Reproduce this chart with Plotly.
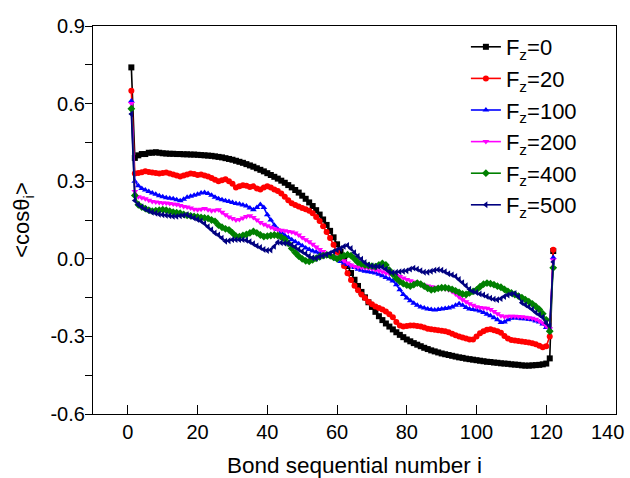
import plotly.graph_objects as go

bond_index = list(range(1, 123))

fz0 = [0.74, 0.39,
       0.400, 0.405, 0.405, 0.410, 0.410, 0.412, 0.410, 0.408,
       0.407, 0.406, 0.406, 0.405, 0.405, 0.404, 0.404, 0.403, 0.403, 0.402,
       0.401, 0.400, 0.399, 0.398, 0.396, 0.394, 0.392, 0.389, 0.386, 0.383,
       0.379, 0.375, 0.371, 0.366, 0.361, 0.356, 0.350, 0.344, 0.338, 0.331,
       0.324, 0.317, 0.310, 0.302, 0.294, 0.285, 0.276, 0.266, 0.256, 0.244,
       0.232, 0.218, 0.204, 0.188, 0.171, 0.152, 0.131, 0.108, 0.083, 0.056,
       0.028, 0.000, -0.028, -0.055, -0.081, -0.105, -0.128, -0.149, -0.168, -0.186,
       -0.205, -0.222, -0.237, -0.250, -0.262, -0.273, -0.284, -0.294, -0.303, -0.312,
       -0.319, -0.326, -0.332, -0.338, -0.344, -0.349, -0.354, -0.358, -0.362, -0.366,
       -0.369, -0.372, -0.375, -0.378, -0.381, -0.383, -0.386, -0.388, -0.390, -0.392,
       -0.394, -0.396, -0.398, -0.399, -0.401, -0.402, -0.404, -0.405, -0.406, -0.408,
       -0.409, -0.410, -0.412, -0.413, -0.413, -0.412, -0.411, -0.410, -0.408, -0.405,
       -0.385, 0.030]

fz20 = [0.65, 0.33,
        0.332, 0.335, 0.338, 0.336, 0.334, 0.332, 0.330, 0.332,
        0.334, 0.330, 0.326, 0.322, 0.318, 0.322, 0.326, 0.330, 0.328, 0.324,
        0.326, 0.322, 0.318, 0.312, 0.306, 0.300, 0.304, 0.308, 0.300, 0.290,
        0.276, 0.280, 0.284, 0.282, 0.278, 0.280, 0.272, 0.268, 0.276, 0.280,
        0.276, 0.268, 0.262, 0.252, 0.240, 0.226, 0.215, 0.208, 0.202, 0.196,
        0.192, 0.186, 0.176, 0.162, 0.146, 0.126, 0.104, 0.080, 0.054, 0.026,
        0.000, -0.028, -0.056, -0.082, -0.104, -0.122, -0.138, -0.152, -0.166, -0.176,
        -0.184, -0.190, -0.196, -0.204, -0.214, -0.226, -0.244, -0.258, -0.262, -0.260,
        -0.258, -0.258, -0.260, -0.262, -0.266, -0.270, -0.272, -0.274, -0.276, -0.278,
        -0.280, -0.284, -0.290, -0.296, -0.300, -0.304, -0.308, -0.312, -0.312, -0.300,
        -0.288, -0.280, -0.274, -0.272, -0.276, -0.280, -0.286, -0.298, -0.308, -0.314,
        -0.316, -0.318, -0.320, -0.322, -0.324, -0.326, -0.330, -0.336, -0.342, -0.338,
        -0.300, 0.035]

fz100 = [0.61, 0.30,
         0.282, 0.272, 0.266, 0.260, 0.254, 0.250, 0.244, 0.240,
         0.236, 0.234, 0.232, 0.228, 0.224, 0.230, 0.238, 0.242, 0.246, 0.250,
         0.254, 0.256, 0.252, 0.246, 0.238, 0.232, 0.228, 0.224, 0.222, 0.218,
         0.214, 0.212, 0.208, 0.204, 0.196, 0.190, 0.198, 0.210, 0.198, 0.170,
         0.150, 0.130, 0.114, 0.102, 0.090, 0.082, 0.074, 0.066, 0.058, 0.050,
         0.042, 0.036, 0.030, 0.026, 0.022, 0.018, 0.015, 0.010, 0.004, -0.002,
         -0.010, -0.016, -0.022, -0.028, -0.034, -0.040, -0.044, -0.048, -0.050, -0.052,
         -0.055, -0.060, -0.066, -0.072, -0.078, -0.086, -0.100, -0.120, -0.138, -0.152,
         -0.162, -0.172, -0.180, -0.186, -0.190, -0.194, -0.196, -0.198, -0.196, -0.194,
         -0.192, -0.190, -0.186, -0.180, -0.174, -0.180, -0.188, -0.194, -0.196, -0.198,
         -0.202, -0.208, -0.214, -0.220, -0.228, -0.236, -0.246, -0.244, -0.236, -0.230,
         -0.228, -0.230, -0.232, -0.232, -0.234, -0.236, -0.240, -0.244, -0.252, -0.266,
         -0.275, 0.005]

fz200 = [0.60, 0.26,
         0.240, 0.236, 0.232, 0.226, 0.222, 0.220, 0.218, 0.216,
         0.216, 0.214, 0.212, 0.210, 0.206, 0.202, 0.200, 0.196, 0.192, 0.190,
         0.192, 0.194, 0.190, 0.186, 0.188, 0.190, 0.180, 0.170, 0.162, 0.156,
         0.150, 0.152, 0.158, 0.164, 0.166, 0.160, 0.150, 0.140, 0.134, 0.128,
         0.122, 0.116, 0.112, 0.110, 0.108, 0.106, 0.104, 0.100, 0.092, 0.082,
         0.074, 0.066, 0.056, 0.046, 0.036, 0.028, 0.020, 0.014, 0.010, 0.006,
         0.000, -0.008, -0.016, -0.024, -0.030, -0.032, -0.034, -0.035, -0.036, -0.038,
         -0.042, -0.046, -0.050, -0.055, -0.058, -0.061, -0.064, -0.068, -0.074, -0.080,
         -0.085, -0.090, -0.094, -0.098, -0.102, -0.105, -0.108, -0.110, -0.112, -0.114,
         -0.116, -0.120, -0.126, -0.136, -0.148, -0.158, -0.166, -0.174, -0.180, -0.185,
         -0.188, -0.190, -0.191, -0.196, -0.204, -0.212, -0.220, -0.224, -0.222, -0.222,
         -0.222, -0.223, -0.224, -0.226, -0.228, -0.230, -0.234, -0.240, -0.248, -0.260,
         -0.270, -0.005]

fz400 = [0.58, 0.245,
         0.209, 0.200, 0.194, 0.188, 0.184, 0.186, 0.188, 0.190,
         0.188, 0.184, 0.180, 0.178, 0.176, 0.172, 0.168, 0.166, 0.164, 0.162,
         0.160, 0.158, 0.156, 0.150, 0.145, 0.130, 0.122, 0.116, 0.112, 0.100,
         0.088, 0.086, 0.090, 0.094, 0.100, 0.106, 0.100, 0.092, 0.086, 0.088,
         0.090, 0.092, 0.090, 0.084, 0.076, 0.060, 0.040, 0.024, 0.010, 0.000,
         -0.008, -0.010, -0.004, 0.002, 0.008, 0.012, 0.015, 0.012, 0.006, 0.000,
         0.006, 0.012, 0.016, 0.012, 0.000, -0.014, -0.020, -0.024, -0.026, -0.028,
         -0.030, -0.024, -0.018, -0.024, -0.044, -0.060, -0.076, -0.088, -0.096, -0.102,
         -0.106, -0.100, -0.094, -0.098, -0.106, -0.114, -0.120, -0.118, -0.114, -0.112,
         -0.112, -0.114, -0.118, -0.124, -0.130, -0.136, -0.138, -0.132, -0.126, -0.120,
         -0.108, -0.098, -0.094, -0.096, -0.100, -0.106, -0.110, -0.118, -0.126, -0.132,
         -0.138, -0.144, -0.150, -0.158, -0.166, -0.174, -0.184, -0.196, -0.212, -0.236,
         -0.280, -0.035]

fz500 = [0.56, 0.225,
         0.209, 0.200, 0.192, 0.186, 0.180, 0.176, 0.172, 0.170,
         0.168, 0.166, 0.164, 0.164, 0.166, 0.168, 0.170, 0.164, 0.158, 0.152,
         0.146, 0.136, 0.124, 0.112, 0.100, 0.092, 0.080, 0.068, 0.070, 0.074,
         0.074, 0.074, 0.074, 0.072, 0.066, 0.058, 0.050, 0.044, 0.036, 0.032,
         0.034, 0.048, 0.064, 0.062, 0.060, 0.060, 0.054, 0.046, 0.036, 0.028,
         0.020, 0.010, 0.004, 0.002, 0.008, 0.012, 0.016, 0.022, 0.028, 0.034,
         0.040, 0.048, 0.052, 0.040, 0.024, 0.010, -0.002, -0.014, -0.024, -0.028,
         -0.030, -0.030, -0.032, -0.040, -0.050, -0.054, -0.052, -0.050, -0.048, -0.046,
         -0.040, -0.036, -0.040, -0.046, -0.052, -0.052, -0.048, -0.044, -0.042, -0.044,
         -0.050, -0.058, -0.062, -0.068, -0.080, -0.092, -0.104, -0.118, -0.126, -0.130,
         -0.136, -0.140, -0.146, -0.152, -0.156, -0.158, -0.154, -0.146, -0.140, -0.136,
         -0.134, -0.146, -0.170, -0.178, -0.186, -0.196, -0.208, -0.216, -0.226, -0.248,
         -0.260, -0.012]

series_names = ["F<sub>z</sub>=0", "F<sub>z</sub>=20", "F<sub>z</sub>=100",
                "F<sub>z</sub>=200", "F<sub>z</sub>=400", "F<sub>z</sub>=500"]
series_values = [fz0, fz20, fz100, fz200, fz400, fz500]
colors = ["#000000", "#FF0000", "#0000FF", "#FF00FF", "#008000", "#000080"]
symbols = ["square", "circle", "triangle-up", "triangle-down", "diamond", "triangle-left"]

x_ticks = [0, 20, 40, 60, 80, 100, 120, 140]
x_tick_labels = ["0", "20", "40", "60", "80", "100", "120", "140"]
y_ticks = [-0.6, -0.3, 0.0, 0.3, 0.6, 0.9]
y_tick_labels = ["-0.6", "-0.3", "0.0", "0.3", "0.6", "0.9"]

FONT = "Liberation Sans, Arial, sans-serif"

fig = go.Figure()
for name, vals, c, s in zip(series_names, series_values, colors, symbols):
    fig.add_trace(go.Scatter(
        x=bond_index, y=vals, name=name, mode="lines+markers",
        line=dict(color=c, width=1.6),
        marker=dict(symbol=s, size=6, color=c, line=dict(width=0)),
    ))

# last x tick label is kept inside the page, as in the reference
axis_ticktext = x_tick_labels[:-1] + [""]
fig.add_annotation(
    x=x_ticks[-1], xref="x", y=0, yref="paper", text=x_tick_labels[-1],
    showarrow=False, xanchor="right", yanchor="middle", xshift=10, yshift=-18,
    font=dict(family=FONT, size=20, color="black"),
)

fig.update_layout(
    width=630, height=478,
    margin=dict(l=93, r=14, t=26, b=64, autoexpand=False),
    paper_bgcolor="white", plot_bgcolor="white",
    font=dict(family=FONT, color="black", size=20),
    showlegend=True,
    legend=dict(x=0.713, y=1.0, xanchor="left", yanchor="top",
                bgcolor="rgba(0,0,0,0)", borderwidth=0,
                font=dict(family=FONT, size=22, color="black"),
                itemwidth=30),
)
fig.update_xaxes(
    range=[-10, 140], tickvals=x_ticks, ticktext=axis_ticktext, ticks="inside",
    ticklen=9, tickwidth=1.3,
    tickcolor="black", showline=True, linecolor="black", linewidth=1.3, mirror=True,
    showgrid=False, zeroline=False, tickfont=dict(size=20),
    automargin=False,
    title=dict(text="Bond sequential number i", font=dict(size=22.5), standoff=22),
)
fig.update_yaxes(
    range=[-0.6, 0.9], tickvals=y_ticks, ticktext=y_tick_labels, ticks="outside",
    ticklen=7, tickwidth=1.3, tickcolor="black", showline=True, linecolor="black",
    linewidth=1.3, mirror=True, showgrid=False, zeroline=False, tickfont=dict(size=20),
    automargin=False, ticklabelstandoff=-4,
    minor=dict(dtick=0.15, ticks="outside", ticklen=7, tickwidth=1.3, tickcolor="black", showgrid=False),
    title=dict(text="&lt;cosθ<sub>i</sub>&gt;", font=dict(size=22), standoff=14),
)

fig.write_html("out.html")
